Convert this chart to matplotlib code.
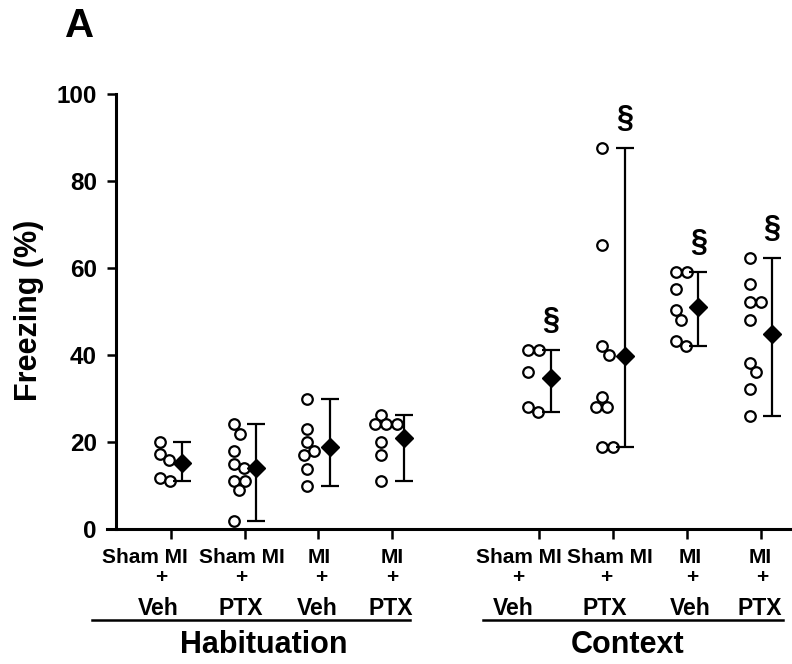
import numpy as np
import matplotlib
matplotlib.use("Agg")
import matplotlib.pyplot as plt
import matplotlib.transforms as mtransforms

plt.rcParams["font.family"] = ["Liberation Sans", "DejaVu Sans"]
plt.rcParams["font.weight"] = "bold"

# freezing (%) per animal
hab_sham_veh = [20.0, 17.3, 16.0, 11.9, 11.1]
hab_sham_ptx = [24.1, 22.0, 18.0, 15.0, 14.0, 11.2, 11.2, 9.0, 2.0]
hab_mi_veh = [30.0, 23.0, 20.0, 18.0, 17.0, 13.9, 10.0]
hab_mi_ptx = [26.3, 24.1, 24.1, 24.1, 20.0, 17.0, 11.0]
ctx_sham_veh = [41.1, 41.1, 36.1, 28.2, 27.0]
ctx_sham_ptx = [87.6, 65.4, 42.1, 40.1, 30.3, 28.0, 28.0, 19.0, 19.0]
ctx_mi_veh = [59.2, 59.2, 55.3, 50.3, 48.1, 43.3, 42.1]
ctx_mi_ptx = [62.4, 56.4, 52.3, 52.3, 48.1, 38.3, 36.2, 32.2, 26.0]

groups = [hab_sham_veh, hab_sham_ptx, hab_mi_veh, hab_mi_ptx,
          ctx_sham_veh, ctx_sham_ptx, ctx_mi_veh, ctx_mi_ptx]
treatment = ["Sham MI", "Sham MI", "MI", "MI", "Sham MI", "Sham MI", "MI", "MI"]
drug = ["Veh", "PTX", "Veh", "PTX", "Veh", "PTX", "Veh", "PTX"]
significant = [False, False, False, False, True, True, True, True]
sessions = ["Habituation", "Context"]

positions = [1, 2, 3, 4, 6, 7, 8, 9]

# pixel scale of the data units (for the swarm layout)
PX_X, PX_Y, DIAM = 73.7, 4.35, 11.0


def swarm(values):
    placed = []
    offs = np.zeros(len(values))
    for i in np.argsort(values)[::-1]:
        y = values[i] * PX_Y
        cands = [0.0]
        for px, py in placed:
            dy = y - py
            if abs(dy) < DIAM:
                dx = np.sqrt(DIAM ** 2 - dy ** 2)
                cands += [px + dx, px - dx]
        cands.sort(key=abs)
        for c in cands:
            if all((c - px) ** 2 + (y - py) ** 2 >= DIAM ** 2 - 1e-6 for px, py in placed):
                break
        placed.append((c, y))
        offs[i] = c / PX_X
    return offs


fig = plt.figure(figsize=(7.92, 6.64), dpi=100)
ax = fig.add_axes([0.1347, 0.2029, 0.8653, 0.6551])

for pos, vals, sig in zip(positions, groups, significant):
    vals = np.asarray(vals)
    xo = swarm(vals)
    ax.plot(pos - 0.15 + xo, vals, "o", ms=7.6, mfc="white", mec="black",
            mew=1.6, clip_on=False, zorder=3)
    m = vals.mean()
    ax.errorbar(pos + 0.155, m, yerr=[[m - vals.min()], [vals.max() - m]],
                fmt="D", ms=9.5, color="black", ecolor="black", elinewidth=1.6,
                capsize=6.5, capthick=1.6, clip_on=False, zorder=4)
    if sig:
        ax.text(pos + 0.155, vals.max() + 6.7, "\u00a7", ha="center", va="center",
                fontsize=22, fontweight="bold")

ax.set_xlim(0.1275, 9.426)
ax.set_ylim(0, 100)
ax.set_yticks([0, 20, 40, 60, 80, 100])
ax.set_xticks(positions)
ax.set_xticklabels([])
ax.spines["left"].set_position(("data", 0.25))
ax.spines["left"].set_bounds(0, 100)
for s in ["top", "right"]:
    ax.spines[s].set_visible(False)
for s in ["left", "bottom"]:
    ax.spines[s].set_linewidth(2.2)
ax.tick_params(axis="y", length=6.5, width=1.8, labelsize=17.5, pad=7)
ax.tick_params(axis="x", length=7, width=1.8)
for lab in ax.get_yticklabels():
    lab.set_fontweight("bold")
fig.text(29 / 792, 1 - 310 / 664, "Freezing (%)", rotation=90, ha="center",
         va="center", fontsize=22, fontweight="bold")

# group labels under the axis (small per-label nudges as in the original)
trans = mtransforms.blended_transform_factory(ax.transData, ax.transAxes)
nudge_top = [-0.35, -0.04, 0.01, 0.0, -0.285, -0.045, 0.046, 0.0]
nudge_plus = [-0.13, -0.05, 0.04, 0.0, -0.285, -0.09, 0.07, 0.02]
nudge_drug = [-0.18, -0.06, -0.02, -0.02, -0.35, -0.11, 0.05, -0.01]
for i, pos in enumerate(positions):
    ax.text(pos + nudge_top[i], -0.066, treatment[i], transform=trans,
            ha="center", va="center", fontsize=15, fontweight="bold")
    ax.text(pos + nudge_plus[i], -0.110, "+", transform=trans,
            ha="center", va="center", fontsize=15, fontweight="bold")
    ax.text(pos + nudge_drug[i], -0.181, drug[i], transform=trans,
            ha="center", va="center", fontsize=16.5, fontweight="bold")

# session underlines and names
spans = [(-0.072, 4.243), (5.233, 9.30)]
name_x = [2.26, 7.20]
for (x0, x1), name, nx in zip(spans, sessions, name_x):
    ax.plot([x0, x1], [-0.2097, -0.2097], transform=trans, color="black",
            lw=1.8, clip_on=False)
    ax.text(nx, -0.266, name, transform=trans, ha="center", va="center",
            fontsize=22, fontweight="bold")

fig.text(65 / 792, 1 - 7 / 664, "A", ha="left", va="top", fontsize=29,
         fontweight="bold")

fig.savefig("out.png", dpi=100)
